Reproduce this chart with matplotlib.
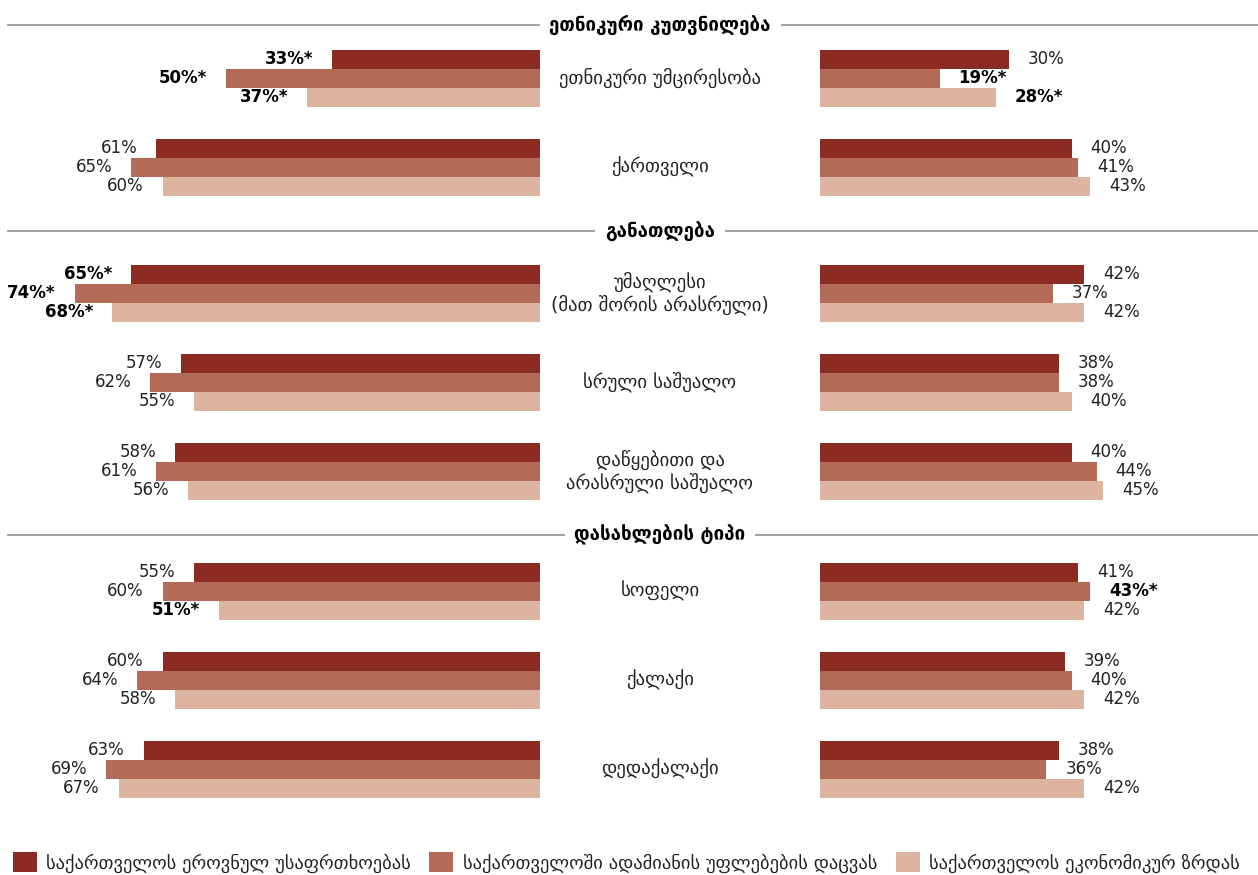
import matplotlib
matplotlib.use("Agg")
import matplotlib.pyplot as plt
from matplotlib.patches import Patch

plt.rcParams['font.family'] = ['DejaVu Sans']

# data
sections = ["ეთნიკური კუთვნილება", "განათლება", "დასახლების ტიპი"]
section_sizes = [2, 3, 3]
categories = ["ეთნიკური უმცირესობა", "ქართველი",
              "უმაღლესი\n(მათ შორის არასრული)", "სრული საშუალო",
              "დაწყებითი და\nარასრული საშუალო",
              "სოფელი", "ქალაქი", "დედაქალაქი"]
series = ["საქართველოს ეროვნულ უსაფრთხოებას",
          "საქართველოში ადამიანის უფლებების დაცვას",
          "საქართველოს ეკონომიკურ ზრდას"]

security_left = [33, 61, 65, 57, 58, 55, 60, 63]
rights_left = [50, 65, 74, 62, 61, 60, 64, 69]
economy_left = [37, 60, 68, 55, 56, 51, 58, 67]
security_right = [30, 40, 42, 38, 40, 41, 39, 38]
rights_right = [19, 41, 37, 38, 44, 43, 40, 36]
economy_right = [28, 43, 42, 40, 45, 42, 42, 42]

# statistically significant differences (bold + *)
sig_security_left = [1, 0, 1, 0, 0, 0, 0, 0]
sig_rights_left = [1, 0, 1, 0, 0, 0, 0, 0]
sig_economy_left = [1, 0, 1, 0, 0, 1, 0, 0]
sig_security_right = [0, 0, 0, 0, 0, 0, 0, 0]
sig_rights_right = [1, 0, 0, 0, 0, 1, 0, 0]
sig_economy_right = [1, 0, 0, 0, 0, 0, 0, 0]

colors = ["#8B2B22", "#B36A56", "#DDB4A0"]
text_color = "#222222"

W, H = 1258, 875
PX = 6.29          # pixels per percent
LEFT0, RIGHT0 = 540, 820
CX = 660
BAR_H = 19

fig = plt.figure(figsize=(W / 100, H / 100), dpi=100)
axL = fig.add_axes([0, 0, LEFT0 / W, 1])
axR = fig.add_axes([RIGHT0 / W, 0, (W - RIGHT0) / W, 1])
ov = fig.add_axes([0, 0, 1, 1])
axL.set_xlim(LEFT0 / PX, 0)
axR.set_xlim(0, (W - RIGHT0) / PX)
ov.set_xlim(0, W)
for a in (axL, axR, ov):
    a.set_ylim(H, 0)
    a.axis("off")
ov.patch.set_alpha(0)

# vertical layout
header_gap = [53, 62, 56]
header_y, group_y = [], []
y = 25
for n, g in zip(section_sizes, header_gap):
    header_y.append(y)
    y += g
    for _ in range(n):
        group_y.append(y)
        y += 89
    y += 64 - 89

for sec, hy in zip(sections, header_y):
    ov.plot([8, W], [hy, hy], color="#9a9a9a", lw=1.3)
    ov.text(CX, hy, sec, ha="center", va="center", fontsize=13.5,
            fontweight="bold", color="black",
            bbox=dict(facecolor="white", edgecolor="none", pad=7))

for cat, gy in zip(categories, group_y):
    ov.text(CX, gy, cat, ha="center", va="center", fontsize=13.5,
            color=text_color, linespacing=1.15)

left_vals = [security_left, rights_left, economy_left]
right_vals = [security_right, rights_right, economy_right]
left_sig = [sig_security_left, sig_rights_left, sig_economy_left]
right_sig = [sig_security_right, sig_rights_right, sig_economy_right]

for k in range(3):
    ys = [gy + (k - 1) * BAR_H for gy in group_y]
    axL.barh(ys, left_vals[k], height=BAR_H, color=colors[k], lw=0)
    axR.barh(ys, right_vals[k], height=BAR_H, color=colors[k], lw=0)
    for yy, v, s in zip(ys, left_vals[k], left_sig[k]):
        axL.text(v + 3, yy, f"{v}%" + ("*" if s else ""), ha="right",
                 va="center", fontsize=12, color="black" if s else text_color,
                 fontweight="bold" if s else "normal", clip_on=False)
    for yy, v, s in zip(ys, right_vals[k], right_sig[k]):
        axR.text(v + 3, yy, f"{v}%" + ("*" if s else ""), ha="left",
                 va="center", fontsize=12, color="black" if s else text_color,
                 fontweight="bold" if s else "normal", clip_on=False)

handles = [Patch(facecolor=c, edgecolor="none") for c in colors]
fig.legend(handles, series, ncol=3, loc="lower left", bbox_to_anchor=(0, -0.012),
           frameon=False, fontsize=13.3, handlelength=1.3, handleheight=1.3,
           handletextpad=0.5, columnspacing=1.0, borderpad=0.2,
           labelcolor=text_color)

fig.savefig("out.png", dpi=100)
